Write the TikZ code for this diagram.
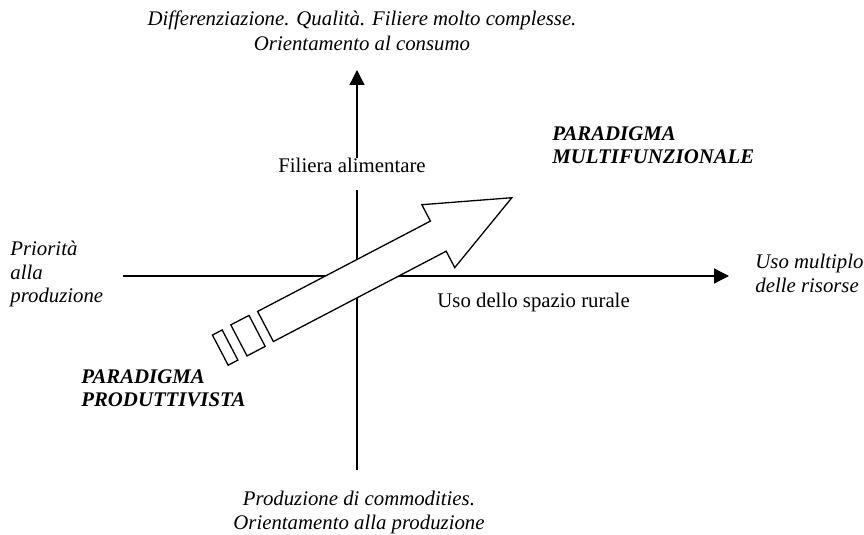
\documentclass[tikz,border=0pt]{standalone}
\usepackage{fontspec}
\setmainfont{Liberation Serif}
\usetikzlibrary{arrows.meta}
\begin{document}
\begin{tikzpicture}[x=0.5pt,y=-0.5pt,
    every node/.style={inner sep=0pt,font=\fontsize{10.4}{11.75}\selectfont},
    axisline/.style={line width=0.65pt,-{Triangle[width=7.5pt,length=7.5pt]}},
    bigarrow/.style={draw,line width=0.65pt,fill=white,line join=miter}]
  \useasboundingbox (0,0) rectangle (864,535);
  \coordinate (xl) at (123,276);
  \coordinate (xr) at (729,276);
  \coordinate (yb) at (357,470);
  \coordinate (yt) at (357,70);
  \draw[axisline] (xl) -- (xr);
  \draw[axisline] (yb) -- (yt);
  \begin{scope}[shift={(265.5,326.5)},rotate=27.6]
    \path[bigarrow] (0,-17) -- (195,-17) -- (195,-35.5) -- (278,0)
      -- (195,35.5) -- (195,17) -- (0,17) -- cycle;
    \path[bigarrow] (-30,-17.5) rectangle (-9.5,17.5);
    \path[bigarrow] (-51,-17) rectangle (-40,17);
  \end{scope}
  \node[anchor=north,align=center,font=\fontsize{10.4}{12.5}\itshape] (top) at (362,10)
    {Differenziazione. Qualità. Filiere molto complesse.\\Orientamento al consumo};
  \node[anchor=north,align=center,font=\fontsize{10.4}{11.75}\itshape] (bottom) at (359,491)
    {Produzione di commodities.\\Orientamento alla produzione};
  \node[anchor=north west,align=left,font=\fontsize{10.4}{11.75}\itshape] (left) at (10,241)
    {Priorità\\alla\\produzione};
  \node[anchor=north west,align=left,font=\fontsize{10.4}{11.75}\itshape] (right) at (755,254)
    {Uso multiplo\\delle risorse};
  \node[anchor=base west,fill=white,inner xsep=1pt,inner ysep=0.5pt,text depth=8pt] (filiera) at (276,173)
    {Filiera alimentare};
  \node[anchor=base west] (spazio) at (437,308) {Uso dello spazio rurale};
  \node[anchor=north west,align=left,font=\fontsize{10.4}{11.75}\bfseries\itshape] (prod) at (81,369)
    {PARADIGMA\\PRODUTTIVISTA};
  \node[anchor=north west,align=left,font=\fontsize{10.4}{11.75}\bfseries\itshape] (multi) at (552,126)
    {PARADIGMA\\MULTIFUNZIONALE};
\end{tikzpicture}
\end{document}
